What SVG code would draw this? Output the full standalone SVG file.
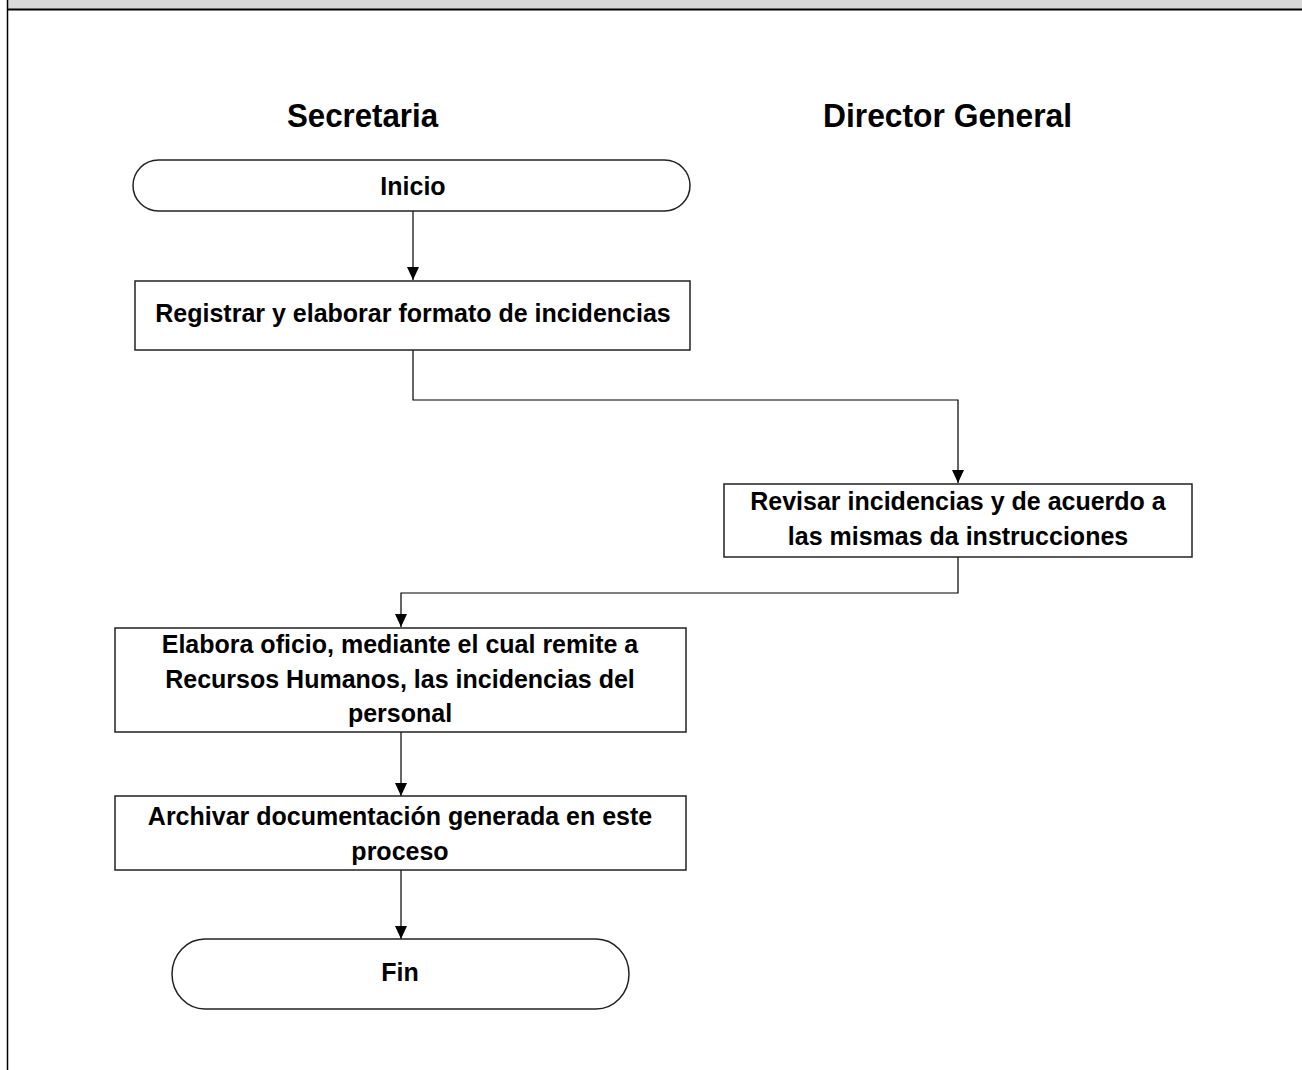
<svg xmlns="http://www.w3.org/2000/svg" width="1302" height="1070" viewBox="0 0 1302 1070">
<style>
.box{fill:#fff;stroke:#222;stroke-width:1.5}
.t{font-family:"Liberation Sans",Arial,sans-serif;font-weight:bold;font-size:25px;fill:#000;text-anchor:middle}
.h{font-family:"Liberation Sans",Arial,sans-serif;font-weight:bold;font-size:33px;fill:#000}
.c{fill:none;stroke:#000;stroke-width:1.2}
</style>
<defs>
<marker id="ah" markerWidth="13" markerHeight="12" viewBox="0 0 13 12" refX="13" refY="6" orient="auto" markerUnits="userSpaceOnUse">
<path d="M0,0 L13,6 L0,12 Z" fill="#000"/>
</marker>
</defs>
<rect width="1302" height="1070" fill="#fff"/>
<g id="frame">
<rect x="7" y="0" width="1295" height="9" fill="#d9d9d9"/>
<line x1="7" y1="9.5" x2="1302" y2="9.5" stroke="#000" stroke-width="2"/>
<line x1="7.5" y1="0" x2="7.5" y2="1070" stroke="#000" stroke-width="1.5"/>
</g>
<g id="lanes">
<text class="h" x="287" y="127" textLength="151" lengthAdjust="spacingAndGlyphs">Secretaria</text>
<text class="h" x="823" y="127" textLength="249" lengthAdjust="spacingAndGlyphs">Director General</text>
</g>
<g id="connectors">
<path class="c" d="M413,211 V280" marker-end="url(#ah)"/>
<path class="c" d="M413,350 V400 H958 V483" marker-end="url(#ah)"/>
<path class="c" d="M958,557 V593 H401 V627" marker-end="url(#ah)"/>
<path class="c" d="M401,732 V796" marker-end="url(#ah)"/>
<path class="c" d="M401,870 V939" marker-end="url(#ah)"/>
</g>
<g id="inicio">
<rect class="box" x="133" y="160" width="557" height="51" rx="25.5" ry="25.5"/>
<text class="t" x="413" y="195">Inicio</text>
</g>
<g id="registrar">
<rect class="box" x="135" y="281" width="555" height="69"/>
<text class="t" x="413" y="322">Registrar y elaborar formato de incidencias</text>
</g>
<g id="revisar">
<rect class="box" x="724" y="484" width="468" height="73"/>
<text class="t" x="958" y="510">Revisar incidencias y de acuerdo a</text>
<text class="t" x="958" y="545">las mismas da instrucciones</text>
</g>
<g id="elabora">
<rect class="box" x="115" y="628" width="571" height="104"/>
<text class="t" x="400" y="653">Elabora oficio, mediante el cual remite a</text>
<text class="t" x="400" y="688">Recursos Humanos, las incidencias del</text>
<text class="t" x="400" y="722">personal</text>
</g>
<g id="archivar">
<rect class="box" x="115" y="796" width="571" height="74"/>
<text class="t" x="400" y="825">Archivar documentación generada en este</text>
<text class="t" x="400" y="860">proceso</text>
</g>
<g id="fin">
<rect class="box" x="172" y="939" width="457" height="70" rx="33" ry="35"/>
<text class="t" x="400" y="981">Fin</text>
</g>
</svg>
